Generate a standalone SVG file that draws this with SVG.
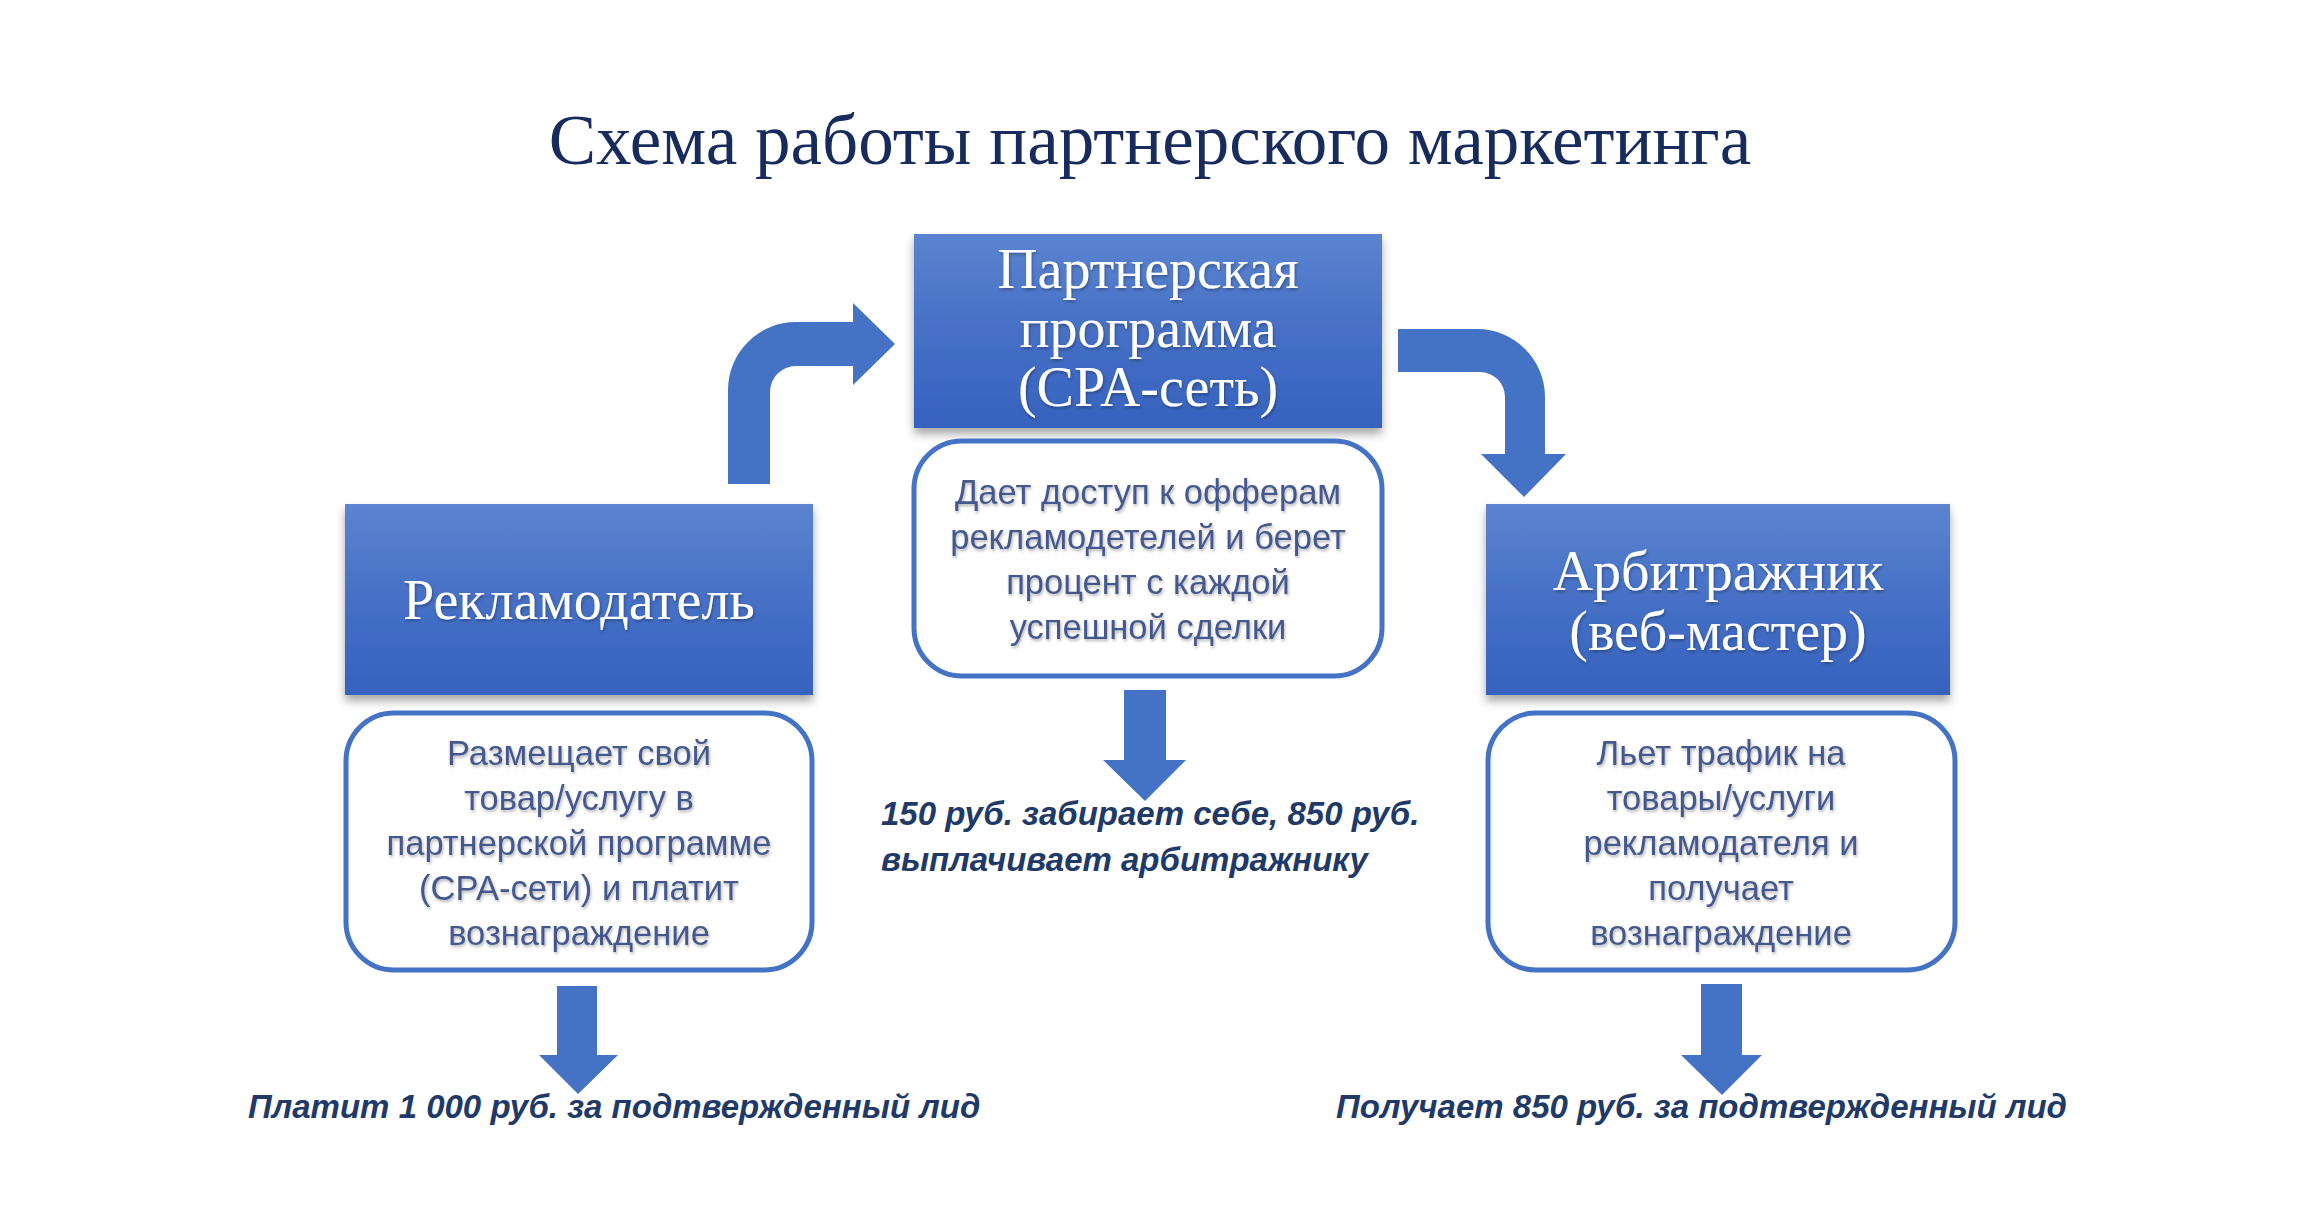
<svg xmlns="http://www.w3.org/2000/svg" width="2308" height="1206" viewBox="0 0 2308 1206">
<defs>
<linearGradient id="boxGrad" x1="0" y1="0" x2="0" y2="1">
<stop offset="0" stop-color="#5b84d0"/>
<stop offset="0.5" stop-color="#4670c6"/>
<stop offset="1" stop-color="#3662be"/>
</linearGradient>
<filter id="boxShadow" x="-10%" y="-10%" width="120%" height="130%">
<feDropShadow dx="0" dy="6" stdDeviation="5" flood-color="#000" flood-opacity="0.35"/>
</filter>
<filter id="txtShadow" x="-5%" y="-20%" width="110%" height="150%">
<feDropShadow dx="1" dy="2" stdDeviation="1.5" flood-color="#000" flood-opacity="0.3"/>
</filter>
</defs>
<style>
.title{font-family:"Liberation Serif","DejaVu Serif",serif;font-size:71px;fill:#172b5c;text-anchor:middle}
.blue{fill:url(#boxGrad);filter:url(#boxShadow)}
.btxt{font-family:"Liberation Serif","DejaVu Serif",serif;font-size:56px;fill:#ffffff;text-anchor:middle;filter:url(#txtShadow)}
.rbox{fill:#ffffff;stroke:#4472c4;stroke-width:5}
.body{font-family:"Liberation Sans","DejaVu Sans",sans-serif;font-size:34.5px;fill:#45598e;text-anchor:middle;filter:url(#txtShadow)}
.note{font-family:"Liberation Sans","DejaVu Sans",sans-serif;font-size:33px;font-weight:bold;font-style:italic;fill:#1f3a68}
.arrow{fill:#4472c4}
</style>
<rect width="2308" height="1206" fill="#ffffff"/>
<text class="title" x="1150" y="164">Схема работы партнерского маркетинга</text>

<g id="connectors">
<path class="arrow" d="M728,484 V390 A68,68 0 0 1 796,322 H853 V303 L895,344 L853,385 V366 H796 A26,26 0 0 0 770,392 V484 Z"/>
<path class="arrow" d="M1398,329 H1477 A68,68 0 0 1 1545,397 V454 H1566 L1524,497 L1481,454 H1505 V397 A25,25 0 0 0 1480,372 H1398 Z"/>
<path class="arrow" d="M1124,690 H1166 V760 H1186 L1145,801 L1103,760 H1124 Z"/>
<path class="arrow" d="M557,986 H597 V1055 H618 L578,1094 L539,1055 H557 Z"/>
<path class="arrow" d="M1701,984 H1742 V1055 H1762 L1722,1095 L1681,1055 H1701 Z"/>
</g>

<g id="partner">
<rect class="blue" x="914" y="234" width="468" height="194"/>
<text class="btxt" x="1148" y="288">Партнерская</text>
<text class="btxt" x="1148" y="347">программа</text>
<text class="btxt" x="1148" y="406">(CPA-сеть)</text>
</g>
<g id="partner-desc">
<rect class="rbox" x="914" y="441" width="468" height="235" rx="48" ry="48"/>
<text class="body" x="1148" y="504">Дает доступ к офферам</text>
<text class="body" x="1148" y="549">рекламодетелей и берет</text>
<text class="body" x="1148" y="594">процент с каждой</text>
<text class="body" x="1148" y="639">успешной сделки</text>
</g>

<g id="advertiser">
<rect class="blue" x="345" y="504" width="468" height="191"/>
<text class="btxt" x="579" y="619">Рекламодатель</text>
</g>
<g id="advertiser-desc">
<rect class="rbox" x="346" y="713" width="466" height="257" rx="48" ry="48"/>
<text class="body" x="579" y="765">Размещает свой</text>
<text class="body" x="579" y="810">товар/услугу в</text>
<text class="body" x="579" y="855">партнерской программе</text>
<text class="body" x="579" y="900">(CPA-сети) и платит</text>
<text class="body" x="579" y="945">вознаграждение</text>
</g>

<g id="arbitrageur">
<rect class="blue" x="1486" y="504" width="464" height="191"/>
<text class="btxt" x="1718" y="590">Арбитражник</text>
<text class="btxt" x="1718" y="650">(веб-мастер)</text>
</g>
<g id="arbitrageur-desc">
<rect class="rbox" x="1488" y="713" width="467" height="257" rx="48" ry="48"/>
<text class="body" x="1721" y="765">Льет трафик на</text>
<text class="body" x="1721" y="810">товары/услуги</text>
<text class="body" x="1721" y="855">рекламодателя и</text>
<text class="body" x="1721" y="900">получает</text>
<text class="body" x="1721" y="945">вознаграждение</text>
</g>

<g id="note-center">
<text class="note" x="881" y="825">150 руб. забирает себе, 850 руб.</text>
<text class="note" x="881" y="871">выплачивает арбитражнику</text>
</g>
<g id="note-left">
<text class="note" x="248" y="1118">Платит 1 000 руб. за подтвержденный лид</text>
</g>
<g id="note-right">
<text class="note" x="1336" y="1118">Получает 850 руб. за подтвержденный лид</text>
</g>
</svg>
